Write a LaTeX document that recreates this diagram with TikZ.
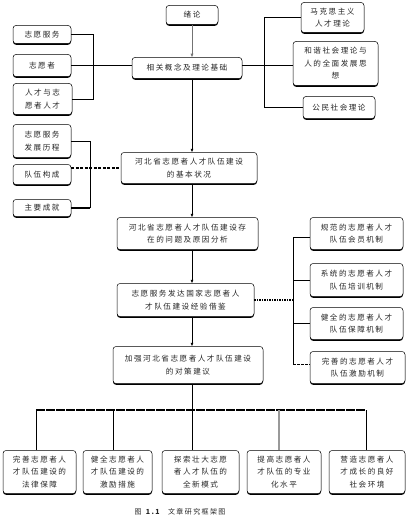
\documentclass[tikz,border=0pt]{standalone}
\usepackage{fontspec}
\newfontfamily\cjk[LetterSpace=20]{Noto Sans CJK SC}
\usetikzlibrary{shadows,arrows.meta}
\tikzset{
  bx/.style={draw=black,line width=0.5pt,rounded corners=3pt,fill=white,
    inner sep=0pt,align=center,font=\cjk\fontsize{7.6}{12.5}\selectfont,
    text=black!85,
    drop shadow={shadow xshift=0pt,shadow yshift=-1.3pt,fill=black,opacity=1}},
  ln/.style={line width=0.6pt},
  thk/.style={line width=1.6pt},
  arr/.style={line width=0.6pt,-{Latex[length=3.5pt,width=3pt]}}
}
\newcommand{\bxn}[6]{\node[bx,minimum width=#4pt,minimum height=#5pt] (#1) at (#2,#3) {#6};}
\begin{document}
\begin{tikzpicture}[x=1pt,y=-1pt]
\useasboundingbox (0,0) rectangle (415,524);
% main column
\bxn{xulun}{192}{15}{52}{19}{绪论}
\bxn{xgll}{187}{68}{110}{21}{相关概念及理论基础}
\bxn{jbzk}{189}{168}{136}{31}{河北省志愿者人才队伍建设\\的基本状况}
\bxn{wt}{187.5}{233.5}{141}{32}{河北省志愿者人才队伍建设存\\在的问题及原因分析}
\bxn{fd}{185.5}{300}{137}{33}{志愿服务发达国家志愿者人\\才队伍建设经验借鉴}
\bxn{jqdc}{188}{365}{150}{37}{加强河北省志愿者人才队伍建设\\的对策建议}
% left top
\bxn{zyfw}{42}{34.5}{58}{18}{志愿服务}
\bxn{zyz}{42}{65.5}{58}{22}{志愿者}
\bxn{rczy}{42.5}{99}{59}{31}{人才与志\\愿者人才}
% right top
\bxn{mks}{332.5}{17.5}{63}{30}{马克思主义\\人才理论}
\bxn{hx}{335.5}{63.5}{85}{44}{和谐社会理论与\\人的全面发展思\\想}
\bxn{gm}{339}{107.5}{72}{22}{公民社会理论}
% left middle
\bxn{lc}{42}{141}{58}{33}{志愿服务\\发展历程}
\bxn{dwgc}{42}{174.5}{58}{20}{队伍构成}
\bxn{zycj}{42}{208}{58}{17}{主要成就}
% right middle
\bxn{gf}{356.5}{233.5}{93}{32}{规范的志愿者人才\\队伍会员机制}
\bxn{xt}{356.5}{280}{93}{33}{系统的志愿者人才\\队伍培训机制}
\bxn{jq}{356.5}{323.5}{93}{32}{健全的志愿者人才\\队伍保障机制}
\bxn{wsjl}{357.5}{367.5}{95}{32}{完善的志愿者人才\\队伍激励机制}
% bottom row
\bxn{b1}{39.5}{472}{73}{43}{完善志愿者人\\才队伍建设的\\法律保障}
\bxn{b2}{117.5}{472}{69}{43}{健全志愿者人\\才队伍建设的\\激励措施}
\bxn{b3}{200.5}{472}{77}{43}{探索壮大志愿\\者人才队伍的\\全新模式}
\bxn{b4}{284}{472}{74}{43}{提高志愿者人\\才队伍的专业\\化水平}
\bxn{b5}{367}{472}{76}{43}{营造志愿者人\\才成长的良好\\社会环境}
% main arrows
\draw[arr,black!55] (xulun.south) -- (xgll.north -| xulun);
\draw[arr] (xgll.south -| xulun) -- (jbzk.north -| xulun);
\draw[arr] (jbzk.south -| xulun) -- (wt.north -| xulun);
\draw[arr] (wt.south -| xulun) -- (fd.north -| xulun);
\draw[arr] (fd.south -| xulun) -- (jqdc.north -| xulun);
% left top bracket
\coordinate (lb1) at (93,0);
\draw[ln] (zyfw.east) -- (zyfw.east -| lb1) -- (rczy.east -| lb1) -- (rczy.east);
\draw[thk] (zyz.east) -- (zyz.east -| xgll.west);
% right top bracket
\coordinate (rb1) at (264,0);
\draw[ln] (xgll.east |- zyz.east) -- (hx.west |- zyz.east);
\draw[ln] (mks.west) -- (mks.west -| rb1) -- (gm.west -| rb1);
\draw[thk] (gm.west -| rb1) -- (gm.west);
% left middle bracket
\coordinate (lb2) at (90,0);
\draw[ln] (lc.east) -- (lc.east -| lb2) -- (zycj.east -| lb2);
\draw[thk] (zycj.east -| lb2) -- (zycj.east);
\draw[thk,dash pattern=on 3pt off 1.5pt] (dwgc.east |- jbzk.west) -- (jbzk.west);
% right middle bracket
\coordinate (rb2) at (293,0);
\draw[thk,dash pattern=on 1.5pt off 1pt] (fd.east) -- (fd.east -| rb2);
\draw[ln] (gf.west |- 0,237) -- (rb2 |- 0,237) -- (rb2 |- 0,364);
\draw[ln] (rb2 |- xt.west) -- (xt.west);
\draw[thk] (rb2 |- jq.west) -- (jq.west);
\draw[ln,dash pattern=on 3pt off 1pt] (rb2 |- 0,364) -- (wsjl.west |- 0,364);
% bottom bus
\coordinate (bus) at (192,410);
\coordinate (d1) at (36,410);
\coordinate (d2) at (113,410);
\coordinate (d3) at (192,410);
\coordinate (d4) at (279,410);
\coordinate (d5) at (366,410);
\draw[ln] (jqdc.south -| bus) -- (bus);
\draw[thk,dash pattern=on 9pt off 1pt] (d1) -- (d5);
\draw[ln] (d1) -- (d1 |- b1.north);
\draw[ln] (d2) -- (d2 |- b2.north);
\draw[ln] (d3) -- (d3 |- b3.north);
\draw[line width=1.2pt,black!40] (d4) -- (d4 |- b4.north);
\draw[ln] (d5) -- (d5 |- b5.north);
% caption
\node[font=\cjk\fontsize{7}{8}\selectfont,text=black!85] (cap) at (180,512) {图 \textbf{1.1}\quad 文章研究框架图};
\end{tikzpicture}
\end{document}
